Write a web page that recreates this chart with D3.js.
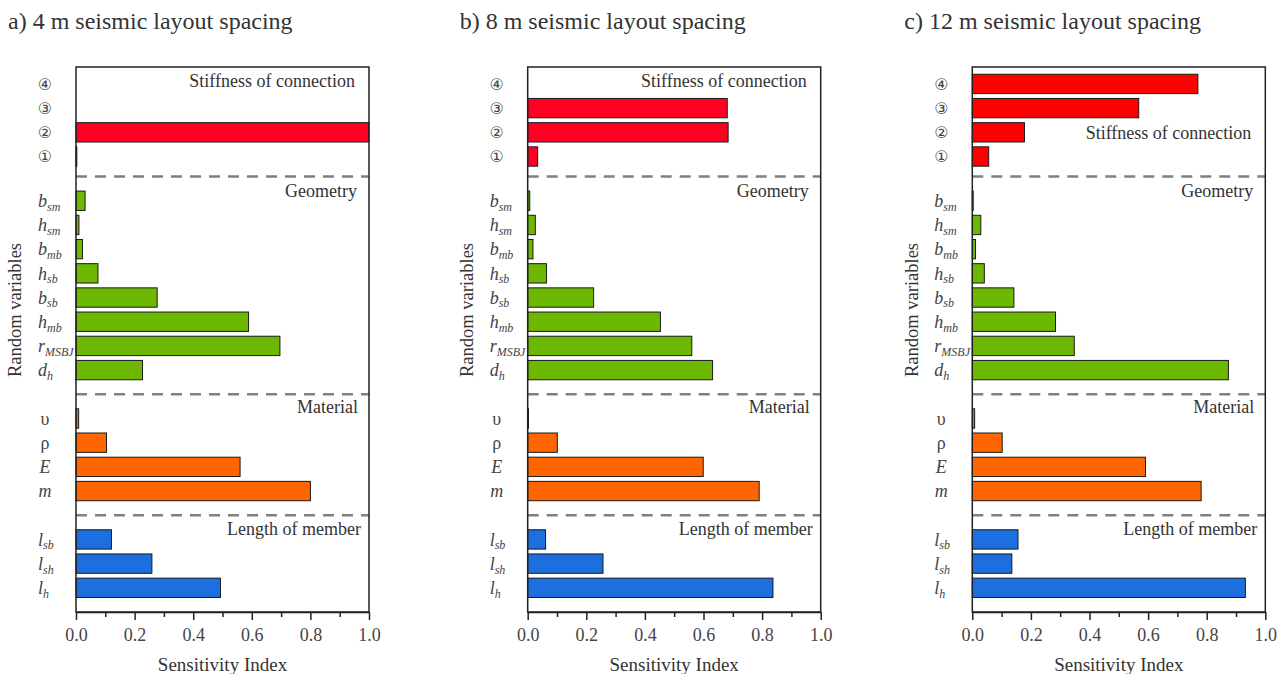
<!DOCTYPE html>
<html>
<head>
<meta charset="utf-8">
<title>Sensitivity Index - seismic layout spacing</title>
<script src="https://d3js.org/d3.v7.min.js"></script>
<style>
  body { margin: 0; background: #fff; }
</style>
</head>
<body>
<div id="chart"></div>
<script>
// ---- data ----
const titles = ["a) 4 m seismic layout spacing", "b) 8 m seismic layout spacing", "c) 12 m seismic layout spacing"];
const groupNames = ["Stiffness of connection", "Geometry", "Material", "Length of member"];

const stiffLabels = [["④"], ["③"], ["②"], ["①"]];
const geoLabels = [["b", "sm"], ["h", "sm"], ["b", "mb"], ["h", "sb"], ["b", "sb"], ["h", "mb"], ["r", "MSBJ"], ["d", "h"]];
const matLabels = [["υ"], ["ρ"], ["E"], ["m"]];
const lenLabels = [["l", "sb"], ["l", "sh"], ["l", "h"]];

const stiffA = [0, 0, 1.0, 0.002];
const geoA = [0.031, 0.010, 0.022, 0.075, 0.277, 0.589, 0.696, 0.227];
const matA = [0.009, 0.104, 0.560, 0.800];
const lenA = [0.121, 0.259, 0.493];

const stiffB = [0, 0.681, 0.684, 0.034];
const geoB = [0.007, 0.026, 0.018, 0.064, 0.225, 0.453, 0.560, 0.631];
const matB = [0.001, 0.101, 0.599, 0.790];
const lenB = [0.061, 0.257, 0.837];

const stiffC = [0.770, 0.568, 0.178, 0.056];
const geoC = [0.003, 0.029, 0.011, 0.041, 0.142, 0.284, 0.348, 0.874];
const matC = [0.008, 0.102, 0.591, 0.781];
const lenC = [0.156, 0.135, 0.932];

const xTicks = [0, 0.2, 0.4, 0.6, 0.8, 1.0];
const xMinor = [0.1, 0.3, 0.5, 0.7, 0.9];

// ---- layout ----
const W = 1286, H = 674;
const serif = "'Liberation Serif', 'DejaVu Serif', 'Times New Roman', serif";
const panelLeft = [76, 527.7, 972.3];
const pw = 293;
const plotTop = 67, plotBottom = 612;
const groupStart = [0, 4.83, 13.83, 18.83];   // row units
const stiffLabelRow = [-0.15, -0.15, 2];         // where "Stiffness of connection" sits per panel
const otherLabelRow = [-0.42, -0.5, -0.45];
const labelInset = [14, 12, 11, 8];
const redFill = ["#ff0022", "#ff0022", "#ff0000"];
const groupFill = [null, "#6db800", "#ff6600", "#1d6fdf"];

const labels = [stiffLabels, geoLabels, matLabels, lenLabels];
const panels = [
  [stiffA, geoA, matA, lenA],
  [stiffB, geoB, matB, lenB],
  [stiffC, geoC, matC, lenC]
];

const svg = d3.select("#chart").append("svg")
  .attr("width", W).attr("height", H)
  .attr("font-family", serif);

const y = d3.scaleLinear().domain([-0.7, 21.83]).range([plotTop, plotBottom]);
const barH = 0.8 * (y(1) - y(0));

panels.forEach(function(groups, p) {
  const left = panelLeft[p];
  const x = d3.scaleLinear().domain([0, 1]).range([left, left + pw]);
  const g = svg.append("g");

  // title
  g.append("text")
    .attr("x", left - 68).attr("y", 29)
    .attr("font-family", serif)
    .attr("font-size", "24px").attr("fill", "#333")
    .text(titles[p]);

  // dashed separators
  [1, 2, 3].forEach(function(k) {
    g.append("line")
      .attr("x1", x(0)).attr("x2", x(1))
      .attr("y1", y(groupStart[k] - 1)).attr("y2", y(groupStart[k] - 1))
      .attr("stroke", "#808080").attr("stroke-width", 2.5)
      .attr("stroke-dasharray", "11,8");
  });

  groups.forEach(function(vals, k) {
    const rows = vals.map(function(v, i) { return { v: v, row: groupStart[k] + i, lab: labels[k][i] }; });
    const fill = k === 0 ? redFill[p] : groupFill[k];

    g.selectAll(null)
      .data(rows.filter(function(d) { return d.v > 0; }))
      .enter().append("rect")
      .attr("x", x(0))
      .attr("y", function(d) { return y(d.row) - barH / 2; })
      .attr("width", function(d) { return Math.max(x(d.v) - x(0), 0.8); })
      .attr("height", barH)
      .attr("fill", fill)
      .attr("stroke", "#1a1a1a").attr("stroke-width", 1);

    // row labels
    rows.forEach(function(d) {
      const t = g.append("text")
        .attr("y", y(d.row))
        .attr("dy", "0.35em")
        .attr("font-family", serif)
        .attr("fill", "#444");
      if (d.lab.length === 1) {
        const circled = k === 0;
        const greek = d.lab[0] === "υ" || d.lab[0] === "ρ";
        t.attr("x", left - 31).attr("text-anchor", "middle")
          .attr("font-size", circled ? "16px" : "18px")
          .attr("font-family", circled ? "'DejaVu Sans', sans-serif" : serif)
          .attr("font-style", (circled || greek) ? "normal" : "italic")
          .text(d.lab[0]);
      } else {
        t.attr("x", left - 38).attr("font-style", "italic").attr("font-size", "18px");
        t.append("tspan").text(d.lab[0]);
        t.append("tspan").attr("font-size", "12px").attr("dy", "0.3em").text(d.lab[1]);
      }
    });

    // group label
    const lr = k === 0 ? stiffLabelRow[p] : otherLabelRow[k - 1];
    g.append("text")
      .attr("x", x(1) - labelInset[k])
      .attr("y", y(groupStart[k] + lr))
      .attr("dy", "0.35em")
      .attr("text-anchor", "end")
      .attr("font-family", serif)
      .attr("font-size", "18px").attr("fill", "#333")
      .text(groupNames[k]);
  });

  // frame
  g.append("rect")
    .attr("x", x(0)).attr("y", plotTop)
    .attr("width", pw).attr("height", plotBottom - plotTop)
    .attr("fill", "none").attr("stroke", "#222").attr("stroke-width", 1.5);

  // x axis
  const ax = g.append("g")
    .attr("transform", "translate(0," + plotBottom + ")")
    .call(d3.axisBottom(x).tickValues(xTicks).tickFormat(d3.format(".1f")).tickSize(8).tickSizeOuter(0).tickPadding(8));
  ax.attr("font-family", serif);
  ax.select(".domain").attr("stroke", "#222").attr("stroke-width", 1.5);
  ax.selectAll(".tick line").attr("stroke", "#222").attr("stroke-width", 1.5);
  ax.selectAll(".tick text")
    .attr("font-size", "18px").attr("fill", "#444");

  const mx = g.append("g")
    .attr("transform", "translate(0," + plotBottom + ")")
    .call(d3.axisBottom(x).tickValues(xMinor).tickFormat("").tickSize(5).tickSizeOuter(0));
  mx.select(".domain").remove();
  mx.selectAll(".tick line").attr("stroke", "#222").attr("stroke-width", 1.5);

  // axis titles
  g.append("text")
    .attr("x", left + pw / 2).attr("y", 664)
    .attr("dy", "0.35em")
    .attr("text-anchor", "middle")
    .attr("font-family", serif)
    .attr("font-size", "19px").attr("fill", "#333")
    .text("Sensitivity Index");

  g.append("text")
    .attr("transform", "translate(" + (left - 61) + "," + 310 + ") rotate(-90)")
    .attr("dy", "0.35em")
    .attr("text-anchor", "middle")
    .attr("font-family", serif)
    .attr("font-size", "18.5px").attr("fill", "#333")
    .text("Random variables");
});
</script>
</body>
</html>
